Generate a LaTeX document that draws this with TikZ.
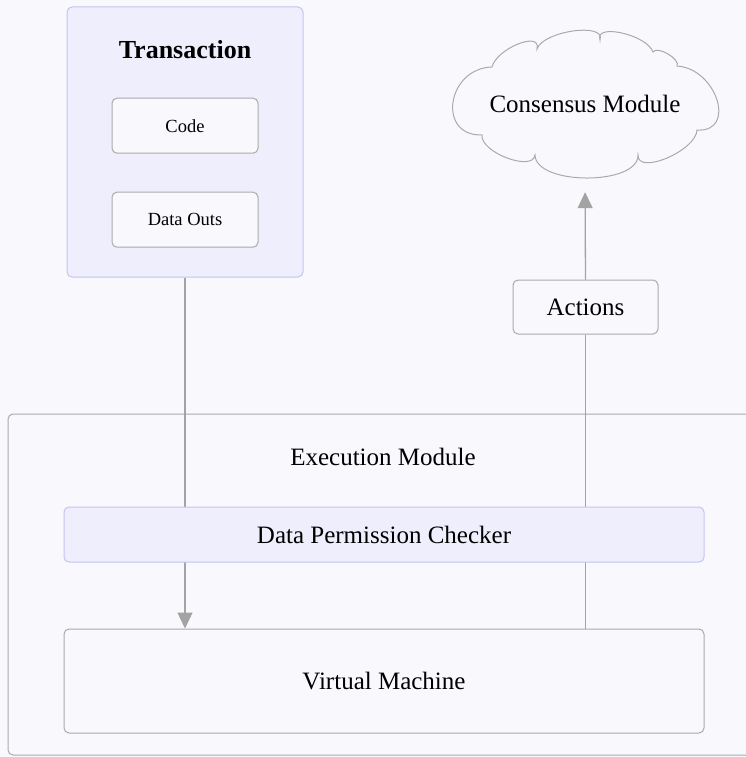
\documentclass[tikz,border=0pt]{standalone}
\usepackage{fontspec}
\setmainfont{Liberation Serif}
\usetikzlibrary{positioning, arrows.meta}

\definecolor{paper}{HTML}{F9F8FD}
\definecolor{lilac}{HTML}{EEEEFC}
\definecolor{lilacline}{HTML}{C4C4F2}
\definecolor{boxline}{HTML}{AAAAAA}
\definecolor{wire}{HTML}{A3A3A3}

\begin{document}
\begin{tikzpicture}[x=1pt, y=-1pt,
	box/.style={draw=boxline, fill=paper, rounded corners=5pt, line width=1pt, inner sep=0pt,
		font=\fontsize{25}{29}\selectfont},
	group/.style={box, draw=lilacline, fill=lilac},
	small/.style={box, minimum width=146pt, minimum height=55pt, font=\fontsize{18.5}{22}\selectfont},
	link/.style={draw=wire, line width=1.3pt},
	tip/.style={-{Triangle[width=15pt, length=16pt]}}]

	\useasboundingbox (0,0) rectangle (746,757);
	\fill[paper] (0,0) rectangle (746,757);
	\clip (0,0) rectangle (746,757);

	% execution module, runs off the right edge
	\node[box, minimum width=792pt, minimum height=341pt] (exec) at (404,584.5) {};
	\node[font=\fontsize{25}{29}\selectfont] (exec title) at (383,457) {Execution Module};

	% transaction with its two parts
	\node[group, minimum width=236pt, minimum height=270pt] (tx) at (185,142) {};
	\node[font=\bfseries\fontsize{26}{30}\selectfont] (tx title) at (185,50) {Transaction};
	\node[small, below=35pt of tx title] (code) {Code};
	\node[small, below=38pt of code] (outs) {Data Outs};

	% consensus cloud, puff by puff
	\draw[draw=boxline, fill=paper, line width=1pt]
		(482,135) .. controls (436.7,136.3) and (446.7,68.3) .. (492,67)
		.. controls (496.7,48.3) and (541.7,30.3) .. (537,49)
		.. controls (543,31) and (606,22) .. (600,40)
		.. controls (594,22.7) and (647,34.7) .. (653,52)
		.. controls (657,45.3) and (681,59.3) .. (677,66)
		.. controls (717,68.7) and (737,132.7) .. (697,130)
		.. controls (696.3,150.7) and (637.3,175.7) .. (638,155)
		.. controls (638.7,185.7) and (535.7,185.7) .. (535,155)
		.. controls (533,172.3) and (480,152.3) .. (482,135) -- cycle;
	\node[minimum width=265pt, minimum height=148pt, inner sep=0pt,
		font=\fontsize{25}{29}\selectfont] (consensus) at (585,104) {Consensus Module};
	\node[box, minimum width=145pt, minimum height=54pt] (actions) at (585.5,307) {Actions};

	\node[box, minimum width=640pt, minimum height=104pt] (vm) at (384,681) {Virtual Machine};

	% wires go under the checker
	\draw[link, tip] (tx.south) -- (vm.north -| tx.south);
	\draw[link] (vm.north -| actions.south) -- (actions.south);
	\draw[link, tip, shorten >=14pt] (actions.north) -- (consensus.south);

	\node[group, minimum width=640pt, minimum height=55pt] (checker) at (384,534.5) {Data Permission Checker};
\end{tikzpicture}
\end{document}
